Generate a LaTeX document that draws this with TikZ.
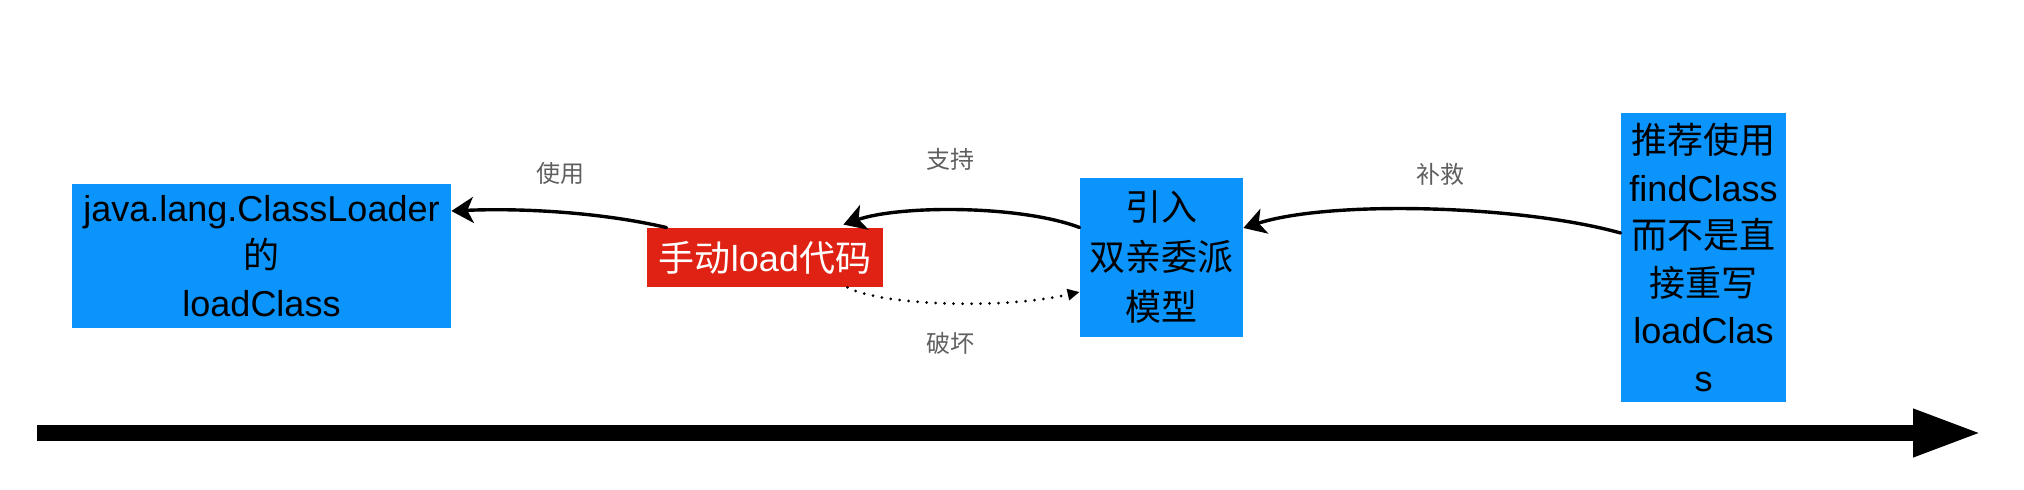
\documentclass[tikz,border=0pt]{standalone}
\usepackage{fontspec}
\setmainfont{Liberation Sans}
\newfontfamily\cjk{Noto Sans CJK SC}
\usetikzlibrary{arrows.meta}
\definecolor{boxblue}{RGB}{10,148,252}
\definecolor{boxred}{RGB}{224,34,20}
\definecolor{labgray}{RGB}{95,95,95}
\newcommand{\zh}[1]{{\cjk #1}}
\begin{document}
\begin{tikzpicture}[x=0.5pt,y=-0.5pt,
  bluebox/.style={fill=boxblue, inner sep=0pt, align=center, text=black},
  redbox/.style={fill=boxred, inner sep=0pt, align=center, text=white, font=\fontsize{18}{24}\selectfont},
  lab/.style={text=labgray, inner sep=0pt, font=\fontsize{12}{14}\selectfont},
  sketch/.style={line width=1.7pt, line cap=round, -{Stealth[length=11pt,width=13pt,inset=3pt]}},
  dotarrow/.style={line width=1.5pt, line cap=round, dash pattern=on 0pt off 4.5pt, -{Triangle[length=6pt,width=5.5pt]}},
  timeline/.style={line width=7.75pt, -{Triangle[length=34.5pt,width=22pt]}}
]
\useasboundingbox (0,0) rectangle (2024,490);
\node[bluebox, minimum width=189.5pt, minimum height=72pt, font=\fontsize{18}{23.75}\selectfont] (cl) at (261.5,256)
  {java.lang.ClassLoader\\\zh{的}\\loadClass};
\node[redbox, minimum width=118pt, minimum height=29.5pt] (manual) at (765,257.5)
  {\zh{手动}load\zh{代码}};
\node[bluebox, minimum width=81.5pt, minimum height=79.5pt, font=\fontsize{18}{25}\selectfont] (parent) at (1161.5,257.5)
  {\zh{引入}\\\zh{双亲委派}\\\zh{模型}};
\node[bluebox, minimum width=82.5pt, minimum height=144.5pt, font=\fontsize{18}{23.75}\selectfont] (find) at (1703.5,257.5)
  {\zh{推荐使用}\\findClass\\\zh{而不是直}\\\zh{接重写}\\loadClas\\s};

\draw[sketch] ([xshift=10pt]manual.north west) .. controls (600,212) and (520,208) .. ([yshift=22.5pt]cl.east);
\draw[sketch] ([yshift=15pt]parent.west) .. controls (1020,205) and (900,205) .. ([xshift=-20pt,yshift=1.5pt]manual.north east);
\draw[sketch] ([yshift=12.25pt]find.west) .. controls (1520,205) and (1330,200) .. ([yshift=14.75pt]parent.east);
\draw[dotarrow] ([xshift=-18pt]manual.south east) .. controls (880,305) and (1000,310) .. ([yshift=-17.25pt]parent.west);

\node[lab] (l-use) at (560,173) {\zh{使用}};
\node[lab] (l-support) at (950,159) {\zh{支持}};
\node[lab] (l-remedy) at (1440,174) {\zh{补救}};
\node[lab] (l-break) at (950,343) {\zh{破坏}};

\coordinate (t0) at (37,433);
\coordinate (t1) at (1982,433);
\draw[timeline] (t0) -- (t1);
\end{tikzpicture}
\end{document}
